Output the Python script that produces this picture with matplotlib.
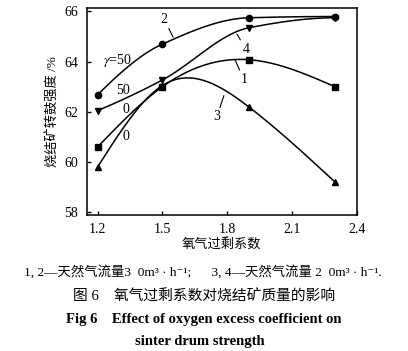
import numpy as np
import matplotlib.pyplot as plt

# fonts: serif for numbers, CJK fallback for Chinese
plt.rcParams['font.family'] = ['Liberation Serif', 'Noto Sans CJK SC', 'DejaVu Sans']
plt.rcParams['mathtext.fontset'] = 'stix'

# -----------------------------------------------------
# data
# -----------------------------------------------------
oxygen_excess = [1.2, 1.5, 1.9, 2.3]
curve1 = [60.6, 63.0, 64.08, 63.0]    # squares
curve2 = [62.68, 64.7, 65.75, 65.8]   # circles
curve3 = [59.8, 63.05, 62.2, 59.2]    # up triangles
curve4 = [62.05, 63.27, 65.35, 65.75]  # down triangles

x_ticks = [1.2, 1.5, 1.8, 2.1, 2.4]
y_ticks = [58, 60, 62, 64, 66]


# -----------------------------------------------------
# smoothing helpers (line only goes through the data points)
# -----------------------------------------------------
def natural_spline(x, y, xs):
    x = np.asarray(x, float)
    y = np.asarray(y, float)
    n = len(x)
    h = np.diff(x)
    A = np.zeros((n, n))
    b = np.zeros(n)
    A[0, 0] = A[-1, -1] = 1
    for i in range(1, n - 1):
        A[i, i - 1] = h[i - 1]
        A[i, i] = 2 * (h[i - 1] + h[i])
        A[i, i + 1] = h[i]
        b[i] = 6 * ((y[i + 1] - y[i]) / h[i] - (y[i] - y[i - 1]) / h[i - 1])
    M = np.linalg.solve(A, b)
    idx = np.clip(np.searchsorted(x, xs) - 1, 0, n - 2)
    x0, x1 = x[idx], x[idx + 1]
    hh = x1 - x0
    t0, t1 = x1 - xs, xs - x0
    return (M[idx] * t0 ** 3 / (6 * hh) + M[idx + 1] * t1 ** 3 / (6 * hh)
            + (y[idx] / hh - M[idx] * hh / 6) * t0
            + (y[idx + 1] / hh - M[idx + 1] * hh / 6) * t1)


def pchip(x, y, xs):
    x = np.asarray(x, float)
    y = np.asarray(y, float)
    h = np.diff(x)
    d = np.diff(y) / h
    n = len(x)
    m = np.zeros(n)
    for i in range(1, n - 1):
        if d[i - 1] * d[i] > 0:
            w1 = 2 * h[i] + h[i - 1]
            w2 = h[i] + 2 * h[i - 1]
            m[i] = (w1 + w2) / (w1 / d[i - 1] + w2 / d[i])
    m[0] = ((2 * h[0] + h[1]) * d[0] - h[0] * d[1]) / (h[0] + h[1])
    if np.sign(m[0]) != np.sign(d[0]):
        m[0] = 0
    m[-1] = ((2 * h[-1] + h[-2]) * d[-1] - h[-1] * d[-2]) / (h[-1] + h[-2])
    if np.sign(m[-1]) != np.sign(d[-1]):
        m[-1] = 0
    idx = np.clip(np.searchsorted(x, xs) - 1, 0, n - 2)
    t = (xs - x[idx]) / h[idx]
    h00 = 2 * t ** 3 - 3 * t ** 2 + 1
    h10 = t ** 3 - 2 * t ** 2 + t
    h01 = -2 * t ** 3 + 3 * t ** 2
    h11 = t ** 3 - t ** 2
    return (h00 * y[idx] + h10 * h[idx] * m[idx]
            + h01 * y[idx + 1] + h11 * h[idx] * m[idx + 1])


series = [
    (curve1, "s", natural_spline),
    (curve2, "o", pchip),
    (curve3, "^", natural_spline),
    (curve4, "v", pchip),
]

fig = plt.figure(figsize=(4.08, 3.51), dpi=100)
ax = fig.add_axes([0.2125, 0.388, 0.662, 0.59])

xs = np.linspace(oxygen_excess[0], oxygen_excess[-1], 300)
for values, marker, smooth in series:
    ax.plot(xs, smooth(oxygen_excess, values, xs), color="black", linewidth=1.1)
    ax.plot(oxygen_excess, values, linestyle="none", marker=marker,
            color="black", markersize=4.5)

ax.set_xlim(1.15, 2.4)
ax.set_ylim(57.9, 66.15)
ax.set_xticks(x_ticks)
ax.set_yticks(y_ticks)
ax.set_xticklabels([f"{t:.1f}" for t in x_ticks])
ax.tick_params(direction="in", length=3, width=1, labelsize=10, pad=6)
for s in ax.spines.values():
    s.set_linewidth(1.1)

ax.set_xlabel("氧气过剩系数", fontsize=9.5, labelpad=2)
ax.set_ylabel("烧结矿转鼓强度 /%", fontsize=9.5, labelpad=4)

# curve labels
line = dict(arrowstyle="-", color="black", linewidth=0.8, shrinkA=0, shrinkB=0)
ax.annotate("2", xy=(1.55, 64.98), xytext=(1.508, 65.69), fontsize=10,
            ha="center", va="center", arrowprops=line)
ax.annotate("4", xy=(1.845, 65.1), xytext=(1.887, 64.5), fontsize=10,
            ha="center", va="center", arrowprops=line)
ax.annotate("1", xy=(1.835, 64.1), xytext=(1.877, 63.3), fontsize=10,
            ha="center", va="center", arrowprops=line)
ax.annotate("3", xy=(1.785, 62.65), xytext=(1.752, 61.8), fontsize=10,
            ha="center", va="center", arrowprops=line)
ax.text(1.291, 64.03, r"$\gamma$=50", fontsize=10, ha="center", va="center")
ax.text(1.319, 62.85, "50", fontsize=10, ha="center", va="center")
ax.text(1.333, 62.1, "0", fontsize=10, ha="center", va="center")
ax.text(1.333, 61.0, "0", fontsize=10, ha="center", va="center")

# caption
fig.text(0.497, 1 - 272 / 351,
         "1, 2—天然气流量3  0m³ · h⁻¹;      3, 4—天然气流量 2  0m³ · h⁻¹.",
         fontsize=9.6, ha="center", va="center")
fig.text(0.5, 1 - 297 / 351, "图 6    氧气过剩系数对烧结矿质量的影响",
         fontsize=10.6, ha="center", va="center")
fig.text(0.5, 1 - 320 / 351, "Fig 6    Effect of oxygen excess coefficient on",
         fontsize=10.5, fontweight="bold", ha="center", va="center")
fig.text(0.49, 1 - 342 / 351, "sinter drum strength",
         fontsize=10.5, fontweight="bold", ha="center", va="center")

fig.savefig("out.png", dpi=100)
